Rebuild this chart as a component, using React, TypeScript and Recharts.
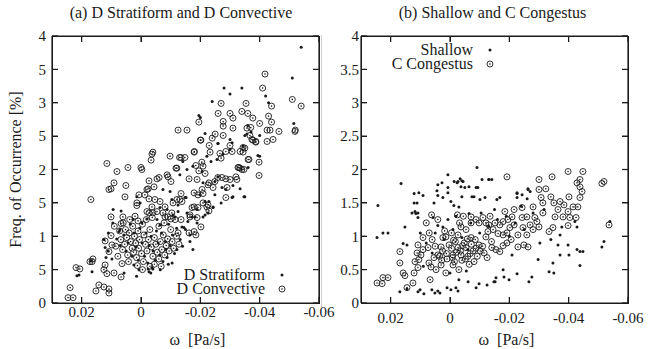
import React from 'react';
import { ScatterChart, Scatter, XAxis, YAxis } from 'recharts';

// omega [Pa/s] vs frequency of occurrence [%]

const D_STRATIFORM: [number, number][] = [
  [-0.054, 3.83], [-0.051, 3.37], [-0.028, 3.22], [-0.034, 3.22], [-0.030, 3.13], [-0.042, 3.10],
  [-0.024, 3.02], [-0.043, 3.0], [-0.0195, 2.81], [-0.020, 2.78], [-0.0515, 2.69], [-0.0216, 2.54],
  [-0.036, 2.66], [-0.040, 2.51], [-0.026, 2.39], [-0.035, 2.51], [-0.040, 2.2], [-0.0307, 2.4],
  [-0.0259, 2.39], [-0.0276, 2.23], [-0.030, 2.30], [-0.030, 2.45], [-0.0344, 2.35], [-0.0357, 2.53],
  [-0.0371, 2.56], [-0.0394, 2.21], [-0.035, 1.59], [-0.031, 1.59], [-0.0334, 1.71], [-0.0273, 1.73],
  [-0.0249, 1.82], [-0.0259, 1.89], [-0.0209, 1.80], [-0.0155, 2.0], [-0.0131, 1.92], [-0.0175, 2.05],
  [-0.0206, 1.97], [-0.0222, 2.2], [-0.0256, 2.15], [-0.0141, 2.12], [-0.0236, 2.12], [-0.0199, 1.62],
  [-0.0216, 1.52], [-0.0152, 1.58], [-0.0098, 1.67], [-0.0074, 1.70], [-0.0104, 1.55], [-0.0125, 1.47],
  [-0.0155, 1.35], [-0.0172, 1.29], [-0.0189, 1.40], [-0.0229, 1.52], [-0.0243, 1.44], [-0.0108, 1.32],
  [-0.0064, 1.43], [-0.0088, 1.40], [-0.0054, 1.25], [-0.0064, 1.17], [-0.0138, 1.14], [-0.0189, 1.20],
  [-0.0158, 1.22], [-0.0209, 1.29], [-0.0226, 1.35], [0.0094, 1.40], [0.0071, 1.10], [0.0014, 1.59],
  [0.0003, 1.50], [0.0027, 1.25], [-0.002, 1.26], [-0.0003, 1.20], [-0.0347, 1.59], [-0.0307, 1.58],
  [-0.027, 1.50], [-0.031, 1.76], [-0.0286, 1.70], [-0.0249, 1.62], [-0.0148, 1.58], [-0.0125, 1.37],
  [-0.0115, 1.29], [-0.0165, 1.02], [-0.0121, 0.80], [-0.0145, 1.13], [-0.0084, 0.80], [-0.0216, 1.32],
  [-0.0243, 1.43], [-0.0182, 1.29], [-0.0361, 2.03], [0.0216, 0.41], [0.0165, 0.47], [0.0169, 0.63],
  [0.0121, 0.83], [0.0111, 0.78], [0.0118, 0.68], [0.0098, 0.66], [0.0067, 1.38], [0.0074, 1.07],
  [0.0057, 0.45], [0.0007, 0.50], [-0.0027, 0.47], [-0.0037, 0.53], [0.0024, 0.57], [-0.0175, 0.80],
  [-0.0165, 0.92], [-0.0024, 0.51], [-0.004, 0.51], [0.0209, 0.42],
  [0.0058, 1.02], [0.005, 0.78], [0.0043, 0.90], [0.0036, 1.18], [0.003, 0.70], [0.0024, 1.05],
  [0.0016, 0.84], [0.0009, 0.64], [0.0004, 1.12], [-0.0004, 0.90], [-0.0012, 0.70], [-0.0017, 1.05],
  [-0.0023, 0.60], [-0.0028, 0.86], [-0.0034, 1.0], [-0.0041, 0.78], [-0.0048, 0.64], [-0.0052, 1.08],
  [-0.0058, 0.90], [-0.0063, 0.72], [-0.0069, 1.05], [-0.0074, 0.62], [-0.0082, 0.92], [-0.0088, 0.68],
  [-0.0093, 1.18], [-0.0098, 0.86], [-0.0106, 1.02], [-0.0113, 0.74], [-0.012, 1.12], [-0.0132, 0.95],
  [-0.014, 0.85], [0.007, 0.86], [0.0082, 0.96], [0.0095, 1.20], [0.011, 1.05], [0.0125, 0.95],
  [-0.015, 1.10], [-0.0033, 0.45], [-0.0065, 0.50], [0.0015, 0.40], [-0.0092, 0.58], [-0.0105, 0.60],
];

const D_CONVECTIVE: [number, number][] = [
  [0.0246, 0.08], [0.0239, 0.23], [0.0229, 0.08], [0.0219, 0.53], [0.0206, 0.51], [0.0172, 0.62],
  [0.0162, 0.66], [0.0165, 0.62], [0.0152, 0.18], [0.0142, 0.27], [0.0125, 0.24], [0.0108, 0.21],
  [0.0108, 0.15], [0.0121, 0.57], [0.0125, 0.50], [0.0115, 0.44], [0.0091, 0.45], [0.0064, 0.59],
  [0.0067, 0.39], [0.0101, 1.01], [0.0098, 0.87], [0.0108, 0.77], [0.0121, 0.93], [0.0101, 1.29],
  [0.0061, 1.29], [0.0067, 1.19], [0.0169, 1.55], [0.0108, 1.70], [0.0101, 1.71], [0.0091, 1.80],
  [0.0081, 1.97], [0.0051, 1.76], [0.0044, 2.03], [0.0054, 1.59], [0.0007, 1.62], [0.0, 2.03],
  [-0.0027, 1.83], [-0.0061, 1.88], [-0.0088, 1.92], [-0.002, 1.70], [0.0014, 1.46], [0.0115, 2.09],
  [-0.0003, 2.0], [-0.0037, 2.23], [-0.0034, 2.14], [-0.0098, 2.20], [-0.0135, 2.18], [-0.0148, 2.18],
  [-0.0121, 2.02], [-0.0054, 1.86], [-0.0179, 2.26], [-0.0162, 1.86], [-0.0189, 1.85], [-0.0229, 1.80],
  [-0.0206, 1.70], [-0.0179, 1.65], [-0.0243, 1.73], [-0.0013, 1.62], [-0.0024, 1.71], [-0.0044, 1.74],
  [0.0014, 1.50], [-0.0027, 1.56], [-0.0047, 1.55], [-0.0064, 1.52], [-0.0081, 1.44], [-0.0108, 1.50],
  [-0.0121, 1.55], [-0.0138, 1.52], [-0.0179, 1.44], [-0.0222, 1.44], [-0.0209, 1.50], [-0.0229, 1.38],
  [-0.0286, 1.58], [-0.0286, 1.86], [-0.029, 1.73], [-0.032, 1.89], [-0.033, 2.03], [-0.034, 2.0],
  [-0.0361, 2.15], [-0.0398, 2.11], [-0.0398, 1.91], [-0.0344, 2.26], [-0.0344, 2.33], [-0.0377, 2.44],
  [-0.0387, 2.42], [-0.0425, 2.59], [-0.0465, 2.57], [-0.0519, 2.57], [-0.002, 1.37], [-0.0027, 1.35],
  [-0.0037, 1.44], [-0.004, 1.35], [-0.0054, 1.37], [-0.0074, 1.35], [-0.0081, 1.29], [-0.0091, 1.29],
  [-0.0101, 1.26], [-0.0115, 1.25], [-0.0135, 1.25], [-0.0165, 1.29], [-0.0162, 1.05], [-0.0179, 1.07],
  [-0.0202, 1.14], [-0.0189, 1.28], [-0.0125, 1.05], [0.001, 1.23], [-0.0185, 1.02], [-0.0101, 1.82],
  [-0.0091, 1.89], [-0.0135, 1.64], [-0.0131, 1.55], [-0.0104, 1.35], [-0.0165, 1.32], [-0.0172, 1.43],
  [-0.0192, 1.43], [-0.0226, 1.47], [-0.0209, 1.64], [-0.0192, 1.62], [-0.0226, 1.77], [-0.0249, 1.82],
  [-0.0259, 1.88], [-0.0273, 1.88], [-0.03, 1.85], [-0.0323, 1.85], [-0.0334, 2.02], [-0.0347, 2.0],
  [-0.0195, 1.98], [-0.0216, 1.94],
  [-0.0418, 3.43], [-0.041, 3.22], [-0.051, 3.05], [-0.054, 2.95], [-0.027, 2.99], [-0.0354, 2.99],
  [-0.044, 2.95], [-0.026, 2.84], [-0.03, 2.84], [-0.034, 2.87], [-0.036, 2.84], [-0.0377, 2.77],
  [-0.043, 2.8], [-0.0277, 2.72], [-0.031, 2.77], [-0.0195, 2.71], [-0.0155, 2.59], [-0.0277, 2.65],
  [-0.031, 2.62], [-0.0357, 2.62], [-0.037, 2.63], [-0.04, 2.69], [-0.044, 2.71], [-0.0435, 2.59],
  [-0.052, 2.59], [-0.025, 2.53], [-0.0277, 2.51], [-0.0367, 2.51], [-0.0374, 2.45], [-0.0387, 2.41],
  [-0.0425, 2.42], [-0.0445, 2.45], [-0.024, 2.47], [-0.02, 2.44], [-0.023, 2.36], [-0.03, 2.36],
  [-0.0286, 2.27], [-0.0307, 2.27], [-0.0334, 2.27], [-0.035, 2.32], [-0.0266, 2.24], [-0.0233, 2.26],
  [-0.018, 2.27], [-0.004, 2.26], [-0.013, 2.18], [-0.0185, 2.06], [-0.0205, 2.11], [-0.0209, 2.05],
  [-0.027, 2.17], [-0.0364, 2.15], [-0.0327, 2.03], [-0.0118, 2.02], [-0.0125, 2.59], [-0.0202, 2.44],
  [0.006, 1.20], [0.0052, 1.10], [0.0048, 0.98], [0.0055, 0.88], [0.0062, 0.80], [0.0045, 0.72],
  [0.004, 1.05], [0.0035, 0.92], [0.003, 0.82], [0.0038, 1.25], [0.0028, 1.15], [0.0022, 1.0],
  [0.0018, 0.90], [0.0025, 0.76], [0.0015, 0.68], [0.001, 1.08], [0.0005, 0.95], [0.0008, 0.82],
  [-0.0002, 0.74], [-0.0005, 1.18], [-0.001, 1.02], [-0.0015, 0.88], [-0.0008, 0.62], [-0.002, 0.78],
  [-0.0025, 0.95], [-0.003, 1.10], [-0.0035, 0.84], [-0.004, 0.70], [-0.0045, 0.98], [-0.005, 0.88],
  [-0.0055, 0.76], [-0.006, 0.66], [-0.0065, 0.92], [-0.007, 0.80], [-0.0075, 1.02], [-0.008, 0.72],
  [-0.0085, 0.86], [-0.009, 0.96], [-0.0095, 0.78], [-0.01, 1.10], [-0.0105, 0.92], [-0.011, 0.82],
  [-0.0045, 0.58], [-0.003, 0.55], [0.0012, 0.56], [0.0042, 0.62], [0.0068, 0.95], [0.0072, 1.08],
  [0.0078, 0.70], [-0.0018, 1.25], [-0.006, 1.15], [-0.0078, 1.20], [-0.012, 1.0], [-0.0128, 0.88],
  [0.0085, 0.85], [0.009, 1.15], [-0.0005, 0.50], [-0.0068, 0.55], [0.002, 1.30], [-0.0038, 1.28],
];

const SHALLOW: [number, number][] = [
  [0.0246, 0.98], [0.0226, 1.05], [0.0209, 1.05], [0.0243, 1.46], [0.0165, 1.79], [0.0121, 1.64],
  [0.0105, 1.65], [0.0121, 1.50], [0.0111, 1.50], [0.0091, 1.61], [0.0128, 1.35], [0.0115, 1.34],
  [0.0108, 1.28], [0.0152, 1.14], [0.0158, 0.89], [0.0145, 0.87], [0.0169, 0.17], [0.0145, 0.21],
  [0.0108, 0.17], [0.0101, 0.20], [0.0088, 0.14], [0.0061, 0.20], [0.0051, 0.15], [0.0041, 0.18],
  [0.0034, 0.15], [0.001, 0.23], [-0.0003, 0.20], [-0.002, 0.23], [-0.0027, 0.18], [-0.003, 0.35],
  [-0.0061, 0.32], [-0.0088, 0.23], [-0.0098, 0.29], [-0.0125, 0.27], [-0.0148, 0.32], [0.0041, 1.77],
  [0.0027, 1.80], [0.0007, 1.92], [0.0044, 1.68], [0.0024, 1.58], [0.0054, 1.50], [0.0007, 1.73],
  [0.0007, 1.65], [-0.0003, 1.52], [-0.0013, 1.46], [-0.003, 1.44], [-0.0027, 1.82], [-0.004, 1.83],
  [-0.0037, 1.74], [-0.005, 1.73], [-0.0064, 1.74], [-0.004, 1.59], [-0.0074, 1.59], [-0.0091, 2.03],
  [-0.0108, 1.85], [-0.0088, 1.73], [-0.0094, 1.73], [-0.0131, 1.85], [-0.0081, 1.59], [-0.0101, 1.55],
  [-0.0118, 1.58], [-0.0064, 1.34], [0.0007, 1.25], [0.0057, 1.28], [0.0041, 1.16], [0.0024, 1.14],
  [-0.0141, 1.85], [-0.0168, 1.58], [-0.0158, 1.55], [-0.0226, 1.64], [-0.0226, 1.58], [-0.0263, 1.71],
  [-0.027, 1.67], [-0.0317, 1.40], [-0.0377, 1.14], [-0.0371, 1.02], [-0.0421, 1.22], [-0.0428, 1.14],
  [-0.034, 0.95], [-0.0303, 0.90], [-0.0364, 0.87], [-0.0398, 0.87], [-0.0371, 0.72], [-0.0401, 0.72],
  [-0.0428, 0.80], [-0.0438, 0.77], [-0.0448, 0.77], [-0.0438, 0.56], [-0.0512, 0.84], [-0.0519, 0.92],
  [-0.0539, 1.22], [-0.0297, 0.65], [-0.0347, 0.60], [-0.0334, 0.47], [-0.035, 0.45], [-0.0209, 0.72],
  [-0.0179, 0.50], [-0.0182, 0.39], [-0.0155, 0.38], [-0.0152, 0.32], [-0.0199, 0.35], [-0.0226, 0.44],
  [-0.0266, 0.32], [-0.0276, 0.39], [-0.0034, 1.86], [-0.0044, 1.82], [-0.0024, 1.80], [-0.0014, 1.82],
  [-0.0131, 1.85], [0.0118, 1.37], [0.0108, 1.35], [0.0041, 1.61], [-0.0226, 1.65], [-0.0243, 1.62],
  [-0.0263, 1.70], [-0.026, 1.56],
  [0.005, 1.05], [0.002, 0.95], [-0.001, 1.10], [-0.004, 0.98], [-0.007, 1.20], [-0.01, 1.05],
  [-0.013, 1.15], [-0.016, 1.25], [-0.019, 1.30], [-0.022, 1.20], [-0.025, 1.10], [-0.028, 1.35],
  [0.008, 0.90], [-0.006, 0.80], [-0.02, 1.0], [-0.024, 1.45], [-0.015, 1.40], [-0.0105, 1.35],
  [0.0, 0.45], [-0.0055, 0.48], [0.009, 0.55], [0.01, 1.05], [0.006, 0.75], [-0.002, 1.30],
];

const C_CONGESTUS: [number, number][] = [
  [0.0246, 0.30], [0.0229, 0.29], [0.0226, 0.38], [0.0209, 0.38], [0.0169, 0.77], [0.0169, 0.60],
  [0.0158, 0.45], [0.0152, 0.41], [0.0145, 0.23], [0.0125, 0.30], [0.0121, 0.45], [0.0108, 0.53],
  [0.0118, 0.62], [0.0105, 0.65], [0.0111, 0.75], [0.0098, 0.72], [0.0108, 0.87], [0.0091, 0.98],
  [0.0074, 0.83], [0.0067, 0.35], [0.0071, 0.60], [0.0064, 0.54], [0.0054, 0.68], [0.0041, 0.72],
  [0.0047, 0.50], [0.003, 0.57], [0.0014, 0.45], [-0.001, 0.57], [-0.003, 0.50], [0.0041, 1.25],
  [0.0024, 0.98], [0.0014, 0.99], [0.003, 0.84], [0.0003, 0.87], [-0.001, 0.72], [-0.0037, 0.72],
  [-0.0054, 0.83], [-0.0081, 0.62], [-0.0071, 0.98], [-0.0071, 1.29], [-0.0088, 1.25], [-0.0071, 1.20],
  [-0.0098, 1.20], [-0.0111, 1.28], [-0.0121, 1.20], [-0.0131, 1.17], [-0.0128, 1.07], [-0.0145, 1.10],
  [-0.0121, 0.99], [-0.0125, 0.68], [-0.0098, 0.87], [-0.0054, 1.10], [-0.0037, 1.14], [-0.0027, 1.02],
  [-0.0027, 0.83], [0.0091, 0.80],
  [-0.0192, 1.89], [-0.03, 1.85], [-0.0344, 1.89], [-0.0398, 1.97], [-0.0448, 1.97], [-0.0438, 1.85],
  [-0.0428, 1.80], [-0.0438, 1.74], [-0.0445, 1.67], [-0.0438, 1.58], [-0.0401, 1.59], [-0.0512, 1.79],
  [-0.0519, 1.82], [-0.0536, 1.17], [-0.03, 1.70], [-0.0323, 1.71], [-0.0307, 1.58], [-0.0313, 1.50],
  [-0.034, 1.59], [-0.028, 1.44], [-0.0243, 1.43], [-0.0216, 1.40], [-0.0185, 1.37], [-0.035, 1.50],
  [-0.0371, 1.52], [-0.0384, 1.47], [-0.0415, 1.44], [-0.0431, 1.44], [-0.0364, 1.40], [-0.0398, 1.37],
  [-0.0313, 1.35], [-0.0354, 1.29], [-0.0381, 1.29], [-0.0404, 1.28], [-0.0425, 1.28], [-0.0398, 1.16],
  [-0.0347, 1.13], [-0.0334, 1.07], [-0.0286, 1.28], [-0.0293, 1.22], [-0.0259, 1.29], [-0.0243, 1.28],
  [-0.027, 1.17], [-0.028, 1.10], [-0.0246, 1.13], [-0.03, 1.14], [-0.0209, 1.29], [-0.0195, 1.25],
  [-0.0179, 1.22], [-0.0168, 1.17], [-0.0152, 1.20], [-0.0216, 1.17], [-0.0202, 1.13], [-0.0192, 1.05],
  [-0.0179, 1.02], [-0.0162, 1.04], [-0.0229, 1.02], [-0.0259, 1.02], [-0.0206, 0.95], [-0.0192, 0.90],
  [-0.0179, 0.86], [-0.0168, 0.77], [-0.0155, 0.80], [-0.0141, 0.83], [-0.0229, 0.84], [-0.0249, 0.87],
  [-0.0263, 0.84],
  [0.0025, 0.78], [0.001, 0.66], [-0.0005, 0.82], [-0.0015, 0.62], [-0.0022, 0.76], [-0.004, 0.64],
  [-0.0048, 0.90], [-0.006, 0.70], [-0.0065, 0.58], [-0.0078, 0.78], [-0.0085, 0.95], [-0.0092, 0.70],
  [-0.011, 0.85], [-0.0115, 0.75], [0.0035, 0.70], [0.005, 0.85], [0.006, 0.95], [0.0018, 1.08],
  [-0.0005, 1.05], [-0.0018, 0.92], [-0.0032, 1.20], [-0.0045, 1.30], [-0.014, 0.92], [-0.0135, 1.30],
  [0.007, 1.05], [0.008, 1.20], [0.0062, 1.32], [-0.0025, 1.32],
  [0.0012, 0.74], [-0.0008, 0.68], [-0.0035, 0.78], [-0.0052, 0.66], [-0.0068, 0.74], [-0.0072, 0.88],
  [-0.0088, 0.82], [-0.0102, 0.78], [0.0028, 0.64], [-0.0012, 0.94], [-0.0042, 0.86], [-0.0058, 0.96],
];

const X_DOMAIN: [number, number] = [-0.06, 0.03];
const Y_DOMAIN: [number, number] = [0, 4];
const X_TICKS = [0.02, 0, -0.02, -0.04, -0.06];
const X_LABELS = ['0.02', '0', '-0.02', '-0.04', '-0.06'];
const Y_TICKS = [0, 0.5, 1, 1.5, 2, 2.5, 3, 3.5, 4];
const Y_LABELS_A = ['0', '5', '1', '5', '2', '5', '3', '5', '4'];
const Y_LABELS_B = ['0', '0.5', '1', '1.5', '2', '2.5', '3', '3.5', '4'];

const FONT = '"Liberation Serif", "Times New Roman", serif';
const INK = '#1a1a1a';

const CHART_H = 349;
const MARGIN = { top: 35, right: 20, bottom: 0, left: 0 };
const X_AXIS_H = 46;

const toPoints = (arr: [number, number][]) => arr.map(([x, y]) => ({ x, y }));

const DotShape = (p: any) => <circle cx={p.cx} cy={p.cy} r={1.5} fill={INK} />;
const RingShape = (p: any) => (
  <g>
    <circle cx={p.cx} cy={p.cy} r={3} fill="none" stroke={INK} strokeWidth={0.9} />
    <circle cx={p.cx} cy={p.cy} r={0.8} fill={INK} />
  </g>
);

// legend drawn as a plain overlay so it takes no room from the plot area
function LegendBox({ names, style }: { names: [string, string]; style: React.CSSProperties }) {
  const row: React.CSSProperties = {
    display: 'flex', justifyContent: 'flex-end', alignItems: 'center', height: 14,
    fontFamily: FONT, fontSize: 16, color: INK, whiteSpace: 'nowrap',
  };
  return (
    <div style={{ position: 'absolute', ...style }}>
      <div style={row}>
        <span>{names[0]}</span>
        <svg width={16} height={14} style={{ marginLeft: 9 }}><circle cx={8} cy={7} r={1.5} fill={INK} /></svg>
      </div>
      <div style={row}>
        <span>{names[1]}</span>
        <svg width={16} height={14} style={{ marginLeft: 9 }}>
          <circle cx={8} cy={7} r={3} fill="none" stroke={INK} strokeWidth={0.9} />
          <circle cx={8} cy={7} r={0.8} fill={INK} />
        </svg>
      </div>
    </div>
  );
}

// gnuplot-like border with inward ticks on all four sides, laid over the plot box
function Frame({ left, top, right, bottom }: { left: number; top: number; right: number; bottom: number }) {
  const w = right - left;
  const h = bottom - top;
  const px = (v: number) => left + ((X_DOMAIN[1] - v) / (X_DOMAIN[1] - X_DOMAIN[0])) * w;
  const py = (v: number) => bottom - ((v - Y_DOMAIN[0]) / (Y_DOMAIN[1] - Y_DOMAIN[0])) * h;
  const seg = (l: number, t: number, sw: number, sh: number, key: string) => (
    <div key={key} style={{ position: 'absolute', left: l, top: t, width: sw, height: sh, background: INK }} />
  );
  return (
    <>
      <div style={{ position: 'absolute', left: left - 0.5, top: top - 0.5, width: w + 1, height: h + 1, border: `1.2px solid ${INK}`, boxSizing: 'border-box' }} />
      {X_TICKS.map((v) => seg(px(v) - 0.5, bottom - 6, 1, 6, `xb${v}`))}
      {X_TICKS.map((v) => seg(px(v) - 0.5, top, 1, 6, `xt${v}`))}
      {Y_TICKS.map((v) => seg(left, py(v) - 0.5, 6, 1, `yl${v}`))}
      {Y_TICKS.map((v) => seg(right - 6, py(v) - 0.5, 6, 1, `yr${v}`))}
    </>
  );
}

interface PanelProps {
  width: number;
  yWidth: number;
  yLabels: string[];
  yMargin: number;
  xMargin: number;
  dots: [number, number][];
  rings: [number, number][];
  names: [string, string];
  yTitle?: string;
}

function Panel(p: PanelProps) {
  const tick = { fill: INK, fontSize: 15, fontFamily: FONT };
  return (
    <ScatterChart width={p.width} height={CHART_H} margin={MARGIN}>
      <XAxis
        xAxisId="b" type="number" dataKey="x" domain={X_DOMAIN} reversed allowDataOverflow
        ticks={X_TICKS} tickFormatter={(v) => X_LABELS[X_TICKS.indexOf(v)]}
        height={X_AXIS_H} tickSize={-6} tickMargin={p.xMargin} tick={tick} stroke={INK} strokeWidth={1.2}
        label={{ value: 'ω\u00a0 [Pa/s]', position: 'insideBottom', offset: 4, dx: 12, fill: INK, fontSize: 16, fontFamily: FONT }}
      />
      <XAxis
        xAxisId="t" orientation="top" type="number" dataKey="x" domain={X_DOMAIN} reversed allowDataOverflow
        ticks={X_TICKS} tickFormatter={() => ''} height={1} tickSize={-6} stroke={INK} strokeWidth={1.2}
      />
      <YAxis
        yAxisId="l" type="number" dataKey="y" domain={Y_DOMAIN} allowDataOverflow ticks={Y_TICKS}
        tickFormatter={(v) => p.yLabels[Y_TICKS.indexOf(v)]}
        width={p.yWidth} tickSize={-6} tickMargin={p.yMargin} tick={tick} stroke={INK} strokeWidth={1.2}
        label={p.yTitle ? { value: p.yTitle, angle: -90, position: 'center', dx: -11, fill: INK, fontSize: 16, fontFamily: FONT } : undefined}
      />
      <YAxis
        yAxisId="r" orientation="right" type="number" dataKey="y" domain={Y_DOMAIN} allowDataOverflow ticks={Y_TICKS}
        tickFormatter={() => ''} width={1} tickSize={-6} stroke={INK} strokeWidth={1.2}
      />
      <Scatter name={p.names[0]} xAxisId="b" yAxisId="l" data={toPoints(p.dots)} shape={DotShape} isAnimationActive={false} />
      <Scatter name={p.names[1]} xAxisId="b" yAxisId="l" data={toPoints(p.rings)} shape={RingShape} isAnimationActive={false} />
    </ScatterChart>
  );
}

const titleStyle: React.CSSProperties = {
  position: 'absolute', top: 4, fontFamily: FONT, fontSize: 16, color: INK, textAlign: 'center', whiteSpace: 'nowrap',
};

const LEFT_W = 340;
const RIGHT_X = 330;
const RIGHT_W = 319;
const plotTop = MARGIN.top + 1;
const plotBottom = CHART_H - X_AXIS_H;

export default function App() {
  return (
    <div style={{ position: 'absolute', left: 0, top: 0, width: 649, height: 349, background: '#fff', overflow: 'hidden' }}>
      <div style={{ position: 'absolute', left: 0, top: 0 }}>
        <Panel
          width={LEFT_W} yWidth={52} yLabels={Y_LABELS_A} yMargin={12} xMargin={9}
          dots={D_STRATIFORM} rings={D_CONVECTIVE} names={['D Stratiform', 'D Convective']}
          yTitle="Freq. of Occurrence [%]"
        />
      </div>
      <div style={{ position: 'absolute', left: 321, top: 35, width: 1, height: 272, background: '#cfcfcf' }} />
      <div style={{ position: 'absolute', left: RIGHT_X, top: 0 }}>
        <Panel
          width={RIGHT_W} yWidth={31} yLabels={Y_LABELS_B} yMargin={8} xMargin={15}
          dots={SHALLOW} rings={C_CONGESTUS} names={['Shallow', 'C Congestus']}
        />
      </div>
      <Frame left={52} top={plotTop} right={LEFT_W - MARGIN.right - 1} bottom={plotBottom} />
      <Frame left={RIGHT_X + 31} top={plotTop} right={RIGHT_X + RIGHT_W - MARGIN.right - 1} bottom={plotBottom} />
      <LegendBox names={['D Stratiform', 'D Convective']} style={{ left: 150, top: 268, width: 140 }} />
      <LegendBox names={['Shallow', 'C Congestus']} style={{ left: 350, top: 43, width: 148 }} />
      <div style={{ ...titleStyle, left: 65, width: 232 }}>(a) D Stratiform and D Convective</div>
      <div style={{ ...titleStyle, left: 395, width: 195 }}>(b) Shallow and C Congestus</div>
    </div>
  );
}
